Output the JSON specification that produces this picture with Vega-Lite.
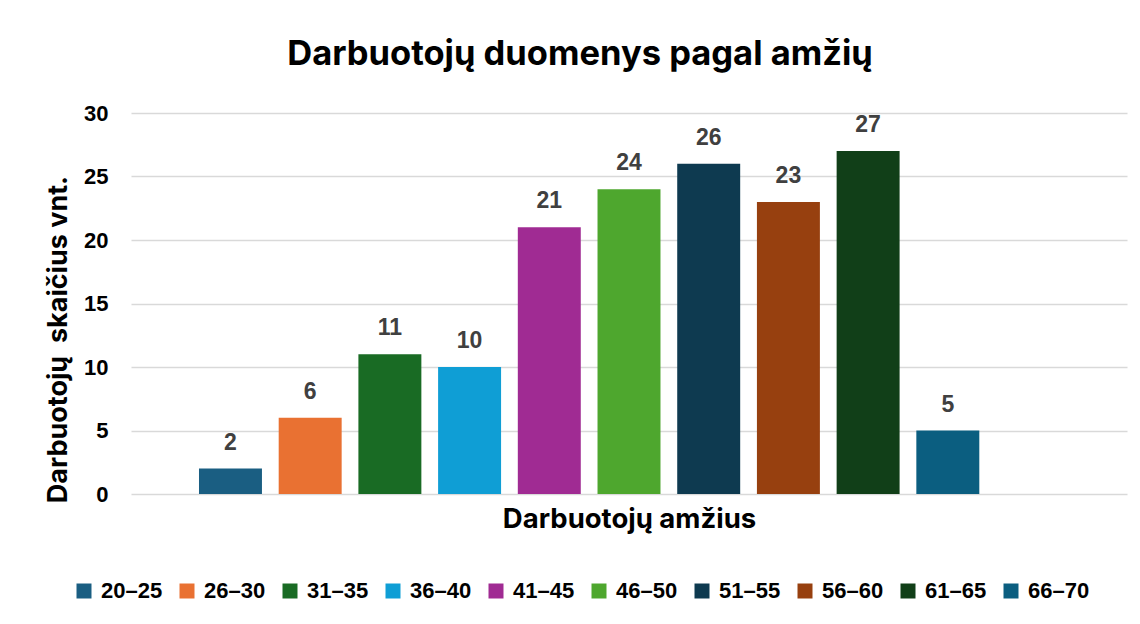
{
  "$schema": "https://vega.github.io/schema/vega-lite/v6.json",
  "autosize": {"type": "none"},
  "width": 996,
  "height": 381,
  "padding": {"left": 131, "top": 113, "right": 13, "bottom": 130},
  "background": "white",
  "view": {"stroke": null},
  "title": {
    "text": "Darbuotojų duomenys pagal amžių",
    "font": "Inter",
    "fontSize": 34.5,
    "fontWeight": "bold",
    "color": "#000000",
    "anchor": "middle",
    "dx": -49,
    "offset": 30
  },
  "data": {
    "values": [
      {"amzius": "20–25", "skaicius": 2},
      {"amzius": "26–30", "skaicius": 6},
      {"amzius": "31–35", "skaicius": 11},
      {"amzius": "36–40", "skaicius": 10},
      {"amzius": "41–45", "skaicius": 21},
      {"amzius": "46–50", "skaicius": 24},
      {"amzius": "51–55", "skaicius": 26},
      {"amzius": "56–60", "skaicius": 23},
      {"amzius": "61–65", "skaicius": 27},
      {"amzius": "66–70", "skaicius": 5}
    ]
  },
  "encoding": {
    "x": {
      "field": "amzius",
      "type": "nominal",
      "sort": null,
      "scale": {
        "domain": ["20–25", "26–30", "31–35", "36–40", "41–45", "46–50", "51–55", "56–60", "61–65", "66–70", " "],
        "paddingInner": 0.21,
        "paddingOuter": 0.853
      },
      "axis": {
        "title": "Darbuotojų amžius",
        "titleFont": "Inter",
        "titleFontSize": 27.5,
        "titleFontWeight": "bold",
        "titleColor": "#000000",
        "titlePadding": 11,
        "titleX": 498,
        "labels": false,
        "ticks": false,
        "domain": false,
        "grid": false
      }
    },
    "y": {
      "field": "skaicius",
      "type": "quantitative",
      "scale": {"domain": [0, 30]},
      "axis": {
        "title": "Darbuotojų\u00a0 skaičius vnt.",
        "titleFont": "Inter",
        "titleFontSize": 27,
        "titleFontWeight": "bold",
        "titleColor": "#000000",
        "titlePadding": 11,
        "titleY": 226,
        "values": [0, 5, 10, 15, 20, 25, 30],
        "labelFont": "Liberation Sans",
        "labelFontSize": 22,
        "labelFontWeight": "bold",
        "labelColor": "#000000",
        "labelPadding": 23,
        "ticks": false,
        "tickSize": 0,
        "domain": false,
        "grid": true,
        "gridColor": "#D9D9D9",
        "gridWidth": 1.5
      }
    }
  },
  "layer": [
    {
      "mark": {"type": "bar"},
      "encoding": {
        "color": {
          "field": "amzius",
          "type": "nominal",
          "sort": null,
          "scale": {
            "domain": ["20–25", "26–30", "31–35", "36–40", "41–45", "46–50", "51–55", "56–60", "61–65", "66–70"],
            "range": ["#1A5E82", "#E97132", "#196B24", "#0F9ED5", "#A02B93", "#4EA72E", "#0E3A50", "#97400F", "#113F18", "#0B5E80"]
          },
          "legend": {
            "title": null,
            "orient": "none",
            "direction": "horizontal",
            "columns": 10,
            "legendX": -58,
            "legendY": 467,
            "symbolType": "square",
            "symbolSize": 225,
            "symbolStrokeWidth": 0,
            "labelFont": "Liberation Sans",
            "labelFontSize": 22,
            "labelFontWeight": "bold",
            "labelColor": "#000000",
            "labelOffset": 6,
            "columnPadding": 13,
            "labelLimit": 200
          }
        }
      }
    },
    {
      "mark": {
        "type": "text",
        "baseline": "alphabetic",
        "dy": -19,
        "font": "Liberation Sans",
        "fontSize": 23,
        "fontWeight": "bold",
        "color": "#404040"
      },
      "encoding": {
        "text": {"field": "skaicius", "type": "quantitative"}
      }
    }
  ]
}
